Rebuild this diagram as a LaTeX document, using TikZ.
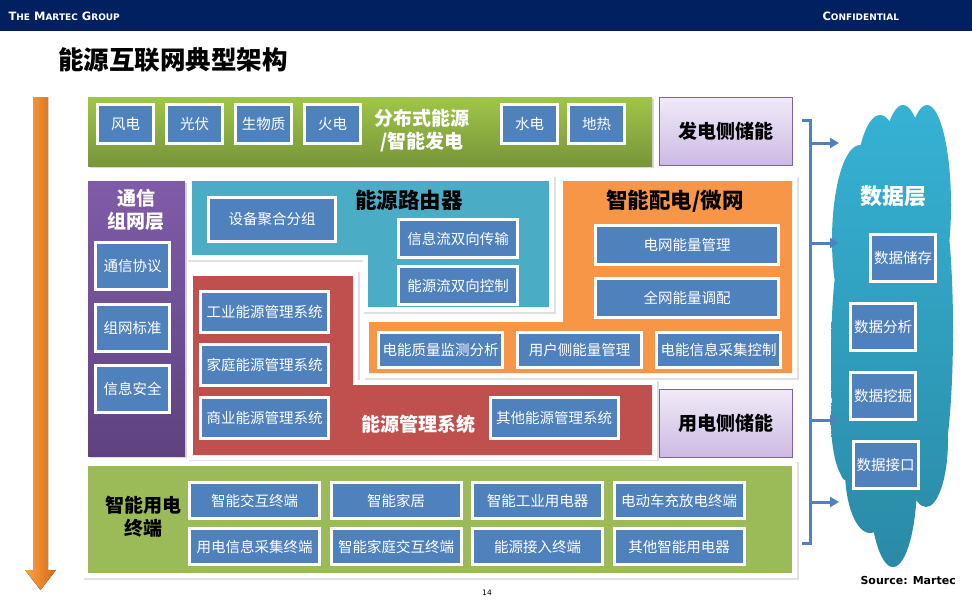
\documentclass[tikz,border=0pt]{standalone}
\usepackage{fontspec}
\setmainfont{Noto Sans CJK SC}
\newfontfamily\headfont{DejaVu Sans}
\usetikzlibrary{arrows.meta, positioning}
\definecolor{navy}{RGB}{0,32,96}
\definecolor{unitblue}{RGB}{79,129,189}
\definecolor{cyanpanel}{RGB}{75,172,198}
\definecolor{orangepanel}{RGB}{247,150,70}
\definecolor{redpanel}{RGB}{192,80,77}
\definecolor{greenpanel}{RGB}{155,187,89}
\definecolor{greenlight}{RGB}{160,198,72}
\definecolor{greendark}{RGB}{119,149,58}
\definecolor{purplelight}{RGB}{128,92,168}
\definecolor{purpledark}{RGB}{94,66,128}
\definecolor{lavlight}{RGB}{240,234,248}
\definecolor{lavdark}{RGB}{204,186,228}
\definecolor{lavedge}{RGB}{128,100,162}
\definecolor{cloudlight}{RGB}{54,178,212}
\definecolor{clouddark}{RGB}{42,138,166}
\definecolor{arrowlight}{RGB}{252,164,64}
\definecolor{arrowdark}{RGB}{214,104,24}
\newcommand{\lowcaps}[1]{{\fontsize{9}{10}\selectfont #1}}

\begin{document}
\begin{tikzpicture}[x=1pt, y=-1pt,
	unit/.style={fill=unitblue, draw=white, line width=3pt, text=white, inner sep=0pt, font=\fontsize{14.5}{16}\selectfont},
	gen/.style={unit, minimum width=56pt, minimum height=39pt},
	comm/.style={unit, minimum width=74pt, minimum height=47pt},
	route/.style={unit, minimum width=119pt, minimum height=38pt},
	grid/.style={unit, minimum width=183pt, minimum height=39pt},
	meter/.style={unit, minimum width=124pt, minimum height=35pt},
	ems/.style={unit, minimum width=128pt, minimum height=41pt},
	term/.style={unit, minimum width=130pt, minimum height=36pt},
	data/.style={unit, minimum width=65pt, minimum height=47pt},
	store/.style={top color=lavlight, bottom color=lavdark, draw=lavedge, line width=1.2pt, inner sep=0pt, minimum width=132.8pt, minimum height=67.8pt, font=\fontsize{19}{22}\selectfont\bfseries},
	heading/.style={inner sep=0pt, align=center, font=\fontsize{19}{23}\selectfont\bfseries},
	shade/.style={fill=black!12, draw=black!12, line width=11pt, shift={(1.5,1.5)}},
	frame/.style={fill=white, draw=white, line width=10pt},
	routerfill/.style={fill=cyanpanel},
	gridfill/.style={fill=orangepanel},
	emsfill/.style={fill=redpanel},
	usefill/.style={fill=greenpanel},
	feed/.style={draw=unitblue, line width=3pt, -{Triangle[length=9pt, width=10pt]}}]
	\useasboundingbox (0,0) rectangle (972,608);
	\fill[white] (0,0) rectangle (972,608);
	\fill[navy] (0,0) rectangle (972,31);
	\node[anchor=west, text=white, font=\headfont\bfseries\fontsize{11.5}{12}\selectfont] (brand) at (5,16) {T\lowcaps{HE} M\lowcaps{ARTEC} G\lowcaps{ROUP}};
	\node[anchor=west, text=white, font=\headfont\bfseries\fontsize{11.5}{12}\selectfont] (confid) at (819,16) {C\lowcaps{ONFIDENTIAL}};
	\node[anchor=west, inner sep=0pt, font=\fontsize{25.5}{28}\selectfont\bfseries] (title) at (58,60) {能源互联网典型架构};
	\fill[left color=arrowlight, right color=arrowdark] (33,97) -- (48,97) -- (48,570) -- (56,570) -- (40.5,590) -- (25,570) -- (33,570) -- cycle;
	\fill[black!15] (90,99) rectangle (654,168);
	\fill[top color=greenlight, bottom color=greendark] (88,97) rectangle (652,166);
	\fill[black!15] (90,183) rectangle (187,458);
	\fill[top color=purplelight, bottom color=purpledark] (88,181) rectangle (185,456);
	\foreach \look in {shade, frame, routerfill}
	\path[\look] (192,181) -- (549,181) -- (549,307) -- (368,307) -- (368,255) -- (192,255) -- cycle;
	\foreach \look in {shade, frame, gridfill}
	\path[\look] (563,181) -- (792,181) -- (792,373) -- (369,373) -- (369,322) -- (563,322) -- cycle;
	\foreach \look in {shade, frame, emsfill}
	\path[\look] (193,276) -- (353,276) -- (353,385) -- (652,385) -- (652,455) -- (193,455) -- cycle;
	\foreach \look in {shade, frame, usefill}
	\path[\look] (88,466) rectangle (792,573);
	\path[top color=cloudlight, bottom color=clouddark]
	(860,240) ellipse [x radius=28, y radius=95]
	(880,205) ellipse [x radius=26, y radius=90]
	(903,200) ellipse [x radius=24, y radius=95]
	(927,205) ellipse [x radius=24, y radius=100]
	(893,340) ellipse [x radius=60, y radius=170]
	(935,330) ellipse [x radius=18, y radius=150]
	(845,360) ellipse [x radius=14, y radius=120]
	(848,420) ellipse [x radius=17, y radius=60]
	(870,470) ellipse [x radius=25, y radius=63]
	(893,480) ellipse [x radius=24, y radius=87]
	(926,440) ellipse [x radius=22, y radius=67];
	\coordinate (bracetop) at (802,120);
	\coordinate (bracebot) at (802,543);
	\draw[unitblue, line width=3pt] (bracetop) -- ++(8,0) |- (bracebot);
	\foreach \y [count=\i] in {143,243,420,502} {
		\coordinate (tail\i) at (810,\y);
		\coordinate (head\i) at (839,\y);
		\draw[feed] (tail\i) -- (head\i);
	}
	\node[gen] (wind) at (125.5,124) {风电};
	\node[gen, right=10pt of wind] (pv) {光伏};
	\node[gen, right=10pt of pv] (bio) {生物质};
	\node[gen, right=10pt of bio] (thermal) {火电};
	\node[gen] (hydro) at (529.5,124) {水电};
	\node[gen, right=8pt of hydro] (geo) {地热};
	\node[heading, text=white] (genlabel) at (422,130.5) {分布式能源\\/智能发电};
	\node[store] (genstore) at (726,131.5) {发电侧储能};
	\node[heading, text=white] (commlabel) at (136,210) {通信\\组网层};
	\node[comm] (protocol) at (132.5,266) {通信协议};
	\node[comm, below=11.5pt of protocol] (standard) {组网标准};
	\node[comm, below=11.5pt of standard] (security) {信息安全};
	\node[heading, font=\fontsize{21.5}{24}\selectfont\bfseries] (routerlabel) at (409,200) {能源路由器};
	\node[unit, minimum width=127pt, minimum height=44pt] (aggregate) at (272,219.5) {设备聚合分组};
	\node[route] (infoflow) at (458,238.5) {信息流双向传输};
	\node[route, below=6pt of infoflow] (powerflow) {能源流双向控制};
	\node[heading, font=\fontsize{21.5}{24}\selectfont\bfseries] (gridlabel) at (675,201) {智能配电/微网};
	\node[grid] (gridmgmt) at (687,245) {电网能量管理};
	\node[grid, below=11pt of gridmgmt] (dispatch) {全网能量调配};
	\node[meter] (quality) at (440.5,350) {电能质量监测分析};
	\node[meter, right=12pt of quality] (userside) {用户侧能量管理};
	\node[meter, right=12pt of userside] (acquire) {电能信息采集控制};
	\node[ems] (industry) at (264.5,312) {工业能源管理系统};
	\node[ems, below=9pt of industry] (home) {家庭能源管理系统};
	\node[ems, below=9pt of home] (business) {商业能源管理系统};
	\node[ems] (otherems) at (554,418) {其他能源管理系统};
	\node[heading, text=white] (emslabel) at (418,424) {能源管理系统};
	\node[store] (usestore) at (726,423.5) {用电侧储能};
	\node[heading] (uselabel) at (143,516.5) {智能用电\\终端};
	\node[term] (interact) at (254.5,500.5) {智能交互终端};
	\node[term, right=8.5pt of interact] (smarthome) {智能家居};
	\node[term, right=8.5pt of smarthome] (industrial) {智能工业用电器};
	\node[term, right=8.5pt of industrial] (ev) {电动车充放电终端};
	\node[term, below=7pt of interact] (collect) {用电信息采集终端};
	\node[term, right=8.5pt of collect] (homeinteract) {智能家庭交互终端};
	\node[term, right=8.5pt of homeinteract] (access) {能源接入终端};
	\node[term, right=8.5pt of access] (otherdev) {其他智能用电器};
	\node[heading, text=white, font=\fontsize{22}{24}\selectfont\bfseries] (datalabel) at (893,196) {数据层};
	\node[data] (storage) at (903,258) {数据储存};
	\node[data] (analyse) at (883,327) {数据分析};
	\node[data, below=19pt of analyse] (mining) {数据挖掘};
	\node[data] (interface) at (885.5,464.5) {数据接口};
	\node[anchor=east, inner sep=0pt, font=\headfont\bfseries\fontsize{11}{12}\selectfont] (source) at (956,580) {Source: Martec};
	\node[inner sep=0pt, font=\headfont\fontsize{7.5}{8}\selectfont] (page) at (487,593) {14};
\end{tikzpicture}
\end{document}
